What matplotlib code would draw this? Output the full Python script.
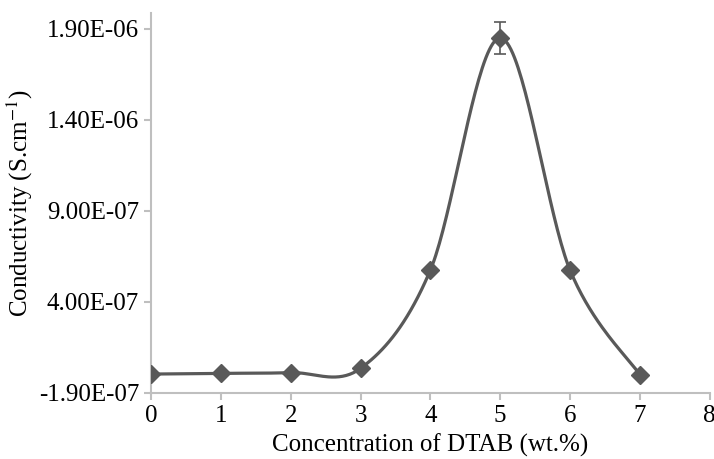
import numpy as np
import matplotlib.pyplot as plt

# concentration (wt.%) et conductivité (S/cm)
conc = [0, 1, 2, 3, 4, 5, 6, 7]
cond = [4e-9, 8e-9, 1.2e-8, 3.5e-8, 5.75e-7, 1.85e-6, 5.75e-7, 0.0]
err = [0, 0, 0, 0, 0, 9e-8, 0, 0]

yticks = [-1.0e-7, 4.0e-7, 9.0e-7, 1.4e-6, 1.9e-6]
ylabels = ['-1.90E-07', '4.00E-07', '9.00E-07', '1.40E-06', '1.90E-06']

plt.rcParams['font.family'] = ['Liberation Serif', 'DejaVu Serif']
plt.rcParams['mathtext.fontset'] = 'stix'


def smooth(x, y, n=40):
    # courbe lissée façon Excel (Catmull-Rom -> Bezier)
    x = np.asarray(x, float)
    y = np.asarray(y, float)
    xs, ys = [], []
    t = np.linspace(0, 1, n)
    for i in range(len(x) - 1):
        i0 = max(i - 1, 0)
        i3 = min(i + 2, len(x) - 1)
        p0 = np.array([x[i], y[i]])
        p3 = np.array([x[i + 1], y[i + 1]])
        p1 = p0 + (p3 - np.array([x[i0], y[i0]])) / 6
        p2 = p3 - (np.array([x[i3], y[i3]]) - p0) / 6
        b = ((1 - t) ** 3)[:, None] * p0 + (3 * (1 - t) ** 2 * t)[:, None] * p1 \
            + (3 * (1 - t) * t ** 2)[:, None] * p2 + (t ** 3)[:, None] * p3
        xs.extend(b[:, 0])
        ys.extend(b[:, 1])
    return xs, ys


fig = plt.figure(figsize=(7.14, 4.59), dpi=100)
ax = fig.add_axes([0.2115, 0.1438, 0.7825, 0.828])

sx, sy = smooth(conc, cond)
ax.plot(sx, sy, color='#595959', lw=2.3, zorder=3)
ax.errorbar(conc, cond, yerr=err, fmt='D', color='#595959', ms=9,
            ecolor='#595959', elinewidth=1.2, capsize=4, capthick=1.2, zorder=4)

ax.set_xlim(0, 8)
ax.set_ylim(-1.0e-7, 1.988e-6)
ax.set_xticks(range(9))
ax.set_yticks(yticks)
ax.set_yticklabels(ylabels)

for s in ['top', 'right']:
    ax.spines[s].set_visible(False)
for s in ['left', 'bottom']:
    ax.spines[s].set_color('#bfbfbf')
    ax.spines[s].set_linewidth(1.5)
ax.tick_params(colors='#bfbfbf', labelcolor='black', labelsize=18, width=1.5, length=5)

ax.set_xlabel('Concentration of DTAB (wt.%)', fontsize=18, labelpad=5)
ax.set_ylabel(r'Conductivity (S.cm$^{-1}$)', fontsize=18, labelpad=3)

fig.savefig('out.png', dpi=100)
